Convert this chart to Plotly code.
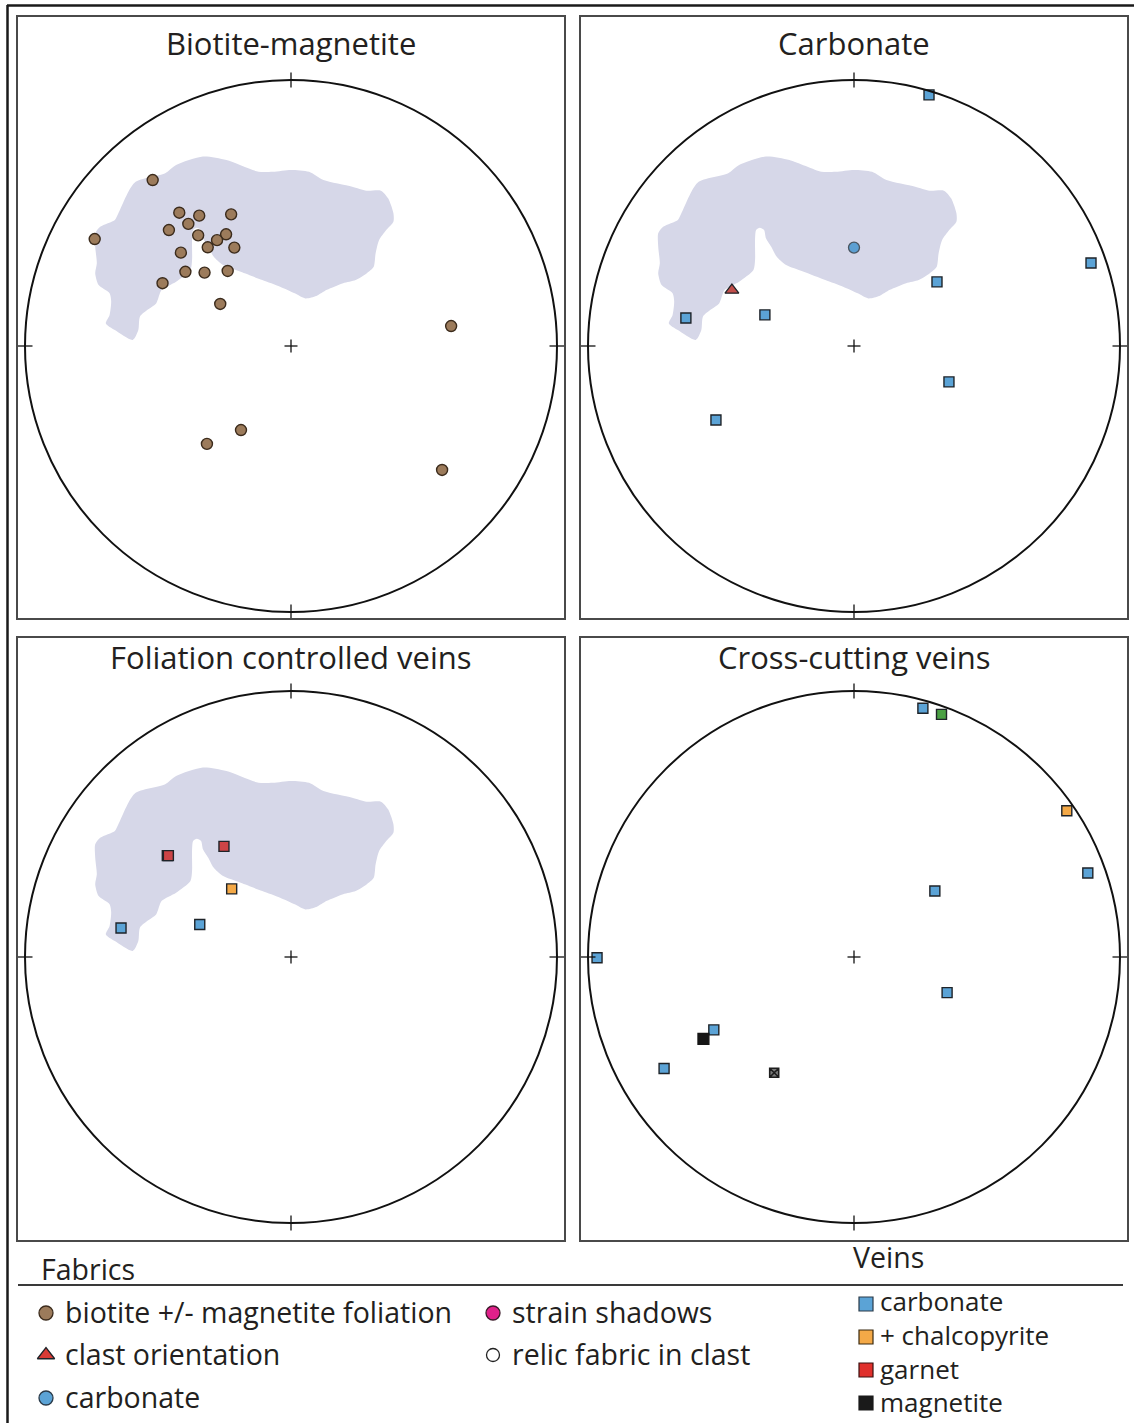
import plotly.graph_objects as go

# ---------------------------------------------------------------------------
# Data: poles plotted on a lower-hemisphere net, in unit-net coordinates
# (x to the east, y to the north, primitive circle radius = 1)
# ---------------------------------------------------------------------------

# Shaded fabric field (shown in three nets)
field_x = [-0.588, -0.473, -0.432, -0.331, -0.243, -0.122, -0.068, 0.000, 0.068, 0.122,
           0.230, 0.284, 0.338, 0.365, 0.385, 0.385, 0.358, 0.331, 0.318, 0.311,
           0.284, 0.243, 0.196, 0.135, 0.095, 0.054, 0.014, -0.041, -0.108, -0.189,
           -0.257, -0.291, -0.311, -0.331, -0.338, -0.354, -0.368, -0.372, -0.372, -0.378,
           -0.432, -0.486, -0.507, -0.541, -0.568, -0.574, -0.595, -0.662, -0.696, -0.682,
           -0.676, -0.682, -0.723, -0.736, -0.730, -0.736, -0.736, -0.716, -0.662, -0.649]
field_y = [0.614, 0.649, 0.680, 0.712, 0.699, 0.655, 0.655, 0.662, 0.655, 0.624,
           0.599, 0.584, 0.584, 0.555, 0.499, 0.467, 0.436, 0.398, 0.348, 0.298,
           0.273, 0.248, 0.236, 0.211, 0.188, 0.179, 0.198, 0.223, 0.248, 0.279,
           0.305, 0.336, 0.373, 0.405, 0.436, 0.445, 0.436, 0.398, 0.323, 0.286,
           0.242, 0.211, 0.160, 0.135, 0.110, 0.060, 0.023, 0.060, 0.085, 0.117,
           0.167, 0.198, 0.229, 0.273, 0.311, 0.373, 0.424, 0.449, 0.474, 0.499]

# Biotite +/- magnetite foliation poles
biotite_x = [-0.520, -0.738, -0.420, -0.345, -0.225, -0.459, -0.386, -0.349, -0.244, -0.278,
             -0.313, -0.213, -0.414, -0.397, -0.325, -0.238, -0.483, -0.266, 0.602, -0.188,
             -0.316, 0.568]
biotite_y = [0.624, 0.402, 0.501, 0.490, 0.495, 0.436, 0.459, 0.416, 0.420, 0.398,
             0.371, 0.370, 0.351, 0.279, 0.276, 0.282, 0.236, 0.158, 0.075, -0.316,
             -0.368, -0.466]

# Carbonate net
carb_vein_x = [0.282, 0.891, 0.312, -0.632, -0.335, 0.357, -0.519]
carb_vein_y = [0.944, 0.312, 0.241, 0.105, 0.117, -0.135, -0.278]
carb_fabric_x = [0.000]
carb_fabric_y = [0.370]
clast_x = [-0.459]
clast_y = [0.210]

# Foliation controlled veins
fol_carb_x = [-0.343, -0.639]
fol_carb_y = [0.122, 0.109]
fol_cpy_x = [-0.223]
fol_cpy_y = [0.256]
fol_grt_x = [-0.465, -0.461, -0.252]
fol_grt_y = [0.381, 0.381, 0.416]

# Cross-cutting veins
cc_carb_x = [0.259, 0.879, 0.304, -0.966, 0.350, -0.527, -0.714]
cc_carb_y = [0.935, 0.316, 0.248, -0.003, -0.134, -0.274, -0.419]
cc_cpy_x = [0.800]
cc_cpy_y = [0.550]
cc_green_x = [0.329]
cc_green_y = [0.912]
cc_mag_x = [-0.566]
cc_mag_y = [-0.308]
cc_mixed_x = [-0.300]
cc_mixed_y = [-0.435]

# Legend entries
fabric_labels = ["biotite +/- magnetite foliation", "clast orientation", "carbonate",
                 "strain shadows", "relic fabric in clast"]
vein_labels = ["carbonate", "+ chalcopyrite", "garnet", "magnetite"]

# ---------------------------------------------------------------------------
# Styling and layout
# ---------------------------------------------------------------------------
W, H = 1134, 1423
R = 266  # net radius in page pixels
FONT = "Open Sans"
TXT = "#231f20"

C_BIO = "#9c7b5b"
C_BLUE = "#5ba3d6"
C_ORANGE = "#f4a947"
C_RED = "#cc4446"
C_GREEN = "#4aa043"
C_FIELD = "#d6d7e8"
EDGE = "#1e2328"

PANELS = [
    dict(title="Biotite-magnetite", box=(18, 17, 564, 618), c=(291, 346), ty=43, field=True),
    dict(title="Carbonate", box=(581, 17, 1127, 618), c=(854, 346), ty=43, field=True),
    dict(title="Foliation controlled veins", box=(18, 638, 564, 1240), c=(291, 957), ty=657, field=True),
    dict(title="Cross-cutting veins", box=(581, 638, 1127, 1240), c=(854, 957), ty=657, field=False),
]


def fx(px):
    return px / W


def fy(py):
    return 1 - py / H


fig = go.Figure()
layout = dict(
    width=W, height=H, margin=dict(l=0, r=0, t=0, b=0),
    paper_bgcolor="white", plot_bgcolor="rgba(0,0,0,0)",
    showlegend=False, shapes=[], annotations=[],
)


def axis_names(i):
    s = "" if i == 1 else str(i)
    return "x" + s, "y" + s, "xaxis" + s, "yaxis" + s


for i, p in enumerate(PANELS, start=1):
    xa, ya, xkey, ykey = axis_names(i)
    x0, y0, x1, y1 = p["box"]
    cx, cy = p["c"]
    common = dict(showgrid=False, zeroline=False, showticklabels=False, ticks="",
                  showline=True, mirror=True, linecolor="#4a4a4a", linewidth=2,
                  fixedrange=True)
    layout[xkey] = dict(domain=[fx(x0), fx(x1)], range=[(x0 - cx) / R, (x1 - cx) / R],
                        anchor=ya, **common)
    layout[ykey] = dict(domain=[fy(y1), fy(y0)], range=[(cy - y1) / R, (cy - y0) / R],
                        anchor=xa, **common)
    # primitive circle
    layout["shapes"].append(dict(type="circle", xref=xa, yref=ya, x0=-1, y0=-1, x1=1, y1=1,
                                 line=dict(color="#111111", width=2), layer="above"))
    # cardinal ticks and centre cross
    t = 7.5 / R
    c = 6.5 / R
    for (ax0, ay0, ax1, ay1) in [(0, 1 - t, 0, 1 + t), (0, -1 - t, 0, -1 + t),
                                 (1 - t, 0, 1 + t, 0), (-1 - t, 0, -1 + t, 0),
                                 (-c, 0, c, 0), (0, -c, 0, c)]:
        layout["shapes"].append(dict(type="line", xref=xa, yref=ya, x0=ax0, y0=ay0,
                                     x1=ax1, y1=ay1, line=dict(color="#111111", width=1.3)))
    layout["annotations"].append(dict(text=p["title"], xref="paper", yref="paper",
                                      x=fx(cx), y=fy(p["ty"]), xanchor="center", yanchor="middle",
                                      showarrow=False, font=dict(family=FONT, size=31, color=TXT)))
    if p["field"]:
        fig.add_trace(go.Scatter(x=field_x + field_x[:1], y=field_y + field_y[:1],
                                 mode="lines", fill="toself", fillcolor=C_FIELD,
                                 line=dict(width=0, shape="spline", smoothing=0.7),
                                 xaxis=xa, yaxis=ya, hoverinfo="skip"))


def pts(i, x, y, symbol, size, color, line_color=EDGE, line_w=1.4):
    xa, ya, _, _ = axis_names(i)
    fig.add_trace(go.Scatter(x=x, y=y, mode="markers", xaxis=xa, yaxis=ya, hoverinfo="skip",
                             marker=dict(symbol=symbol, size=size, color=color,
                                         line=dict(color=line_color, width=line_w))))


# Biotite-magnetite
pts(1, biotite_x, biotite_y, "circle", 11, C_BIO, "#3b2b1c", 1.4)
# Carbonate
pts(2, carb_fabric_x, carb_fabric_y, "circle", 11, "#5c9fd2", "#4a5560", 1.3)
pts(2, clast_x, clast_y, "triangle-up", 12, "#c24f4b", EDGE, 1.3)
pts(2, carb_vein_x, carb_vein_y, "square", 10, C_BLUE)
# Foliation controlled veins
pts(3, fol_carb_x, fol_carb_y, "square", 10, C_BLUE)
pts(3, fol_cpy_x, fol_cpy_y, "square", 10, C_ORANGE)
pts(3, fol_grt_x, fol_grt_y, "square", 10, C_RED)
# Cross-cutting veins
pts(4, cc_carb_x, cc_carb_y, "square", 10, C_BLUE)
pts(4, cc_cpy_x, cc_cpy_y, "square", 10, C_ORANGE)
pts(4, cc_green_x, cc_green_y, "square", 10, C_GREEN)
pts(4, cc_mag_x, cc_mag_y, "square", 11, "#161616", "#161616", 1.2)
pts(4, cc_mixed_x, cc_mixed_y, "square-x", 9, "#7a7a7a", "#1e1e1e", 1.6)

# ---------------------------------------------------------------------------
# Legend (overlay axis in page pixels)
# ---------------------------------------------------------------------------
layout["xaxis5"] = dict(domain=[0, 1], range=[0, W], visible=False, fixedrange=True, anchor="y5")
layout["yaxis5"] = dict(domain=[0, 1], range=[H, 0], visible=False, fixedrange=True, anchor="x5")

fab_style = [("circle", C_BIO, "#3b2b1c", 14), ("triangle-up", "#d93a35", EDGE, 15),
             ("circle", "#5ba3d6", "#2a3a48", 14), ("circle", "#e0218a", "#3a1a28", 14),
             ("circle", "white", "#222222", 13)]
fab_pos = [(46, 1313), (46, 1355), (46, 1398), (493, 1313), (493, 1355)]
vein_style = [("square", C_BLUE, "#2a3a48"), ("square", C_ORANGE, "#3a2a10"),
              ("square", "#e0302c", "#3a1010"), ("square", "#1a1a1a", "#1a1a1a")]
vein_pos = [(866, 1304), (866, 1337), (866, 1370), (866, 1403)]

for lab, (sym, col, lc, sz), (mx, my) in zip(fabric_labels, fab_style, fab_pos):
    fig.add_trace(go.Scatter(x=[mx], y=[my], mode="markers", xaxis="x5", yaxis="y5",
                             hoverinfo="skip",
                             marker=dict(symbol=sym, size=sz, color=col, line=dict(color=lc, width=1.3))))
    layout["annotations"].append(dict(text=lab, xref="paper", yref="paper", x=fx(mx + 17), y=fy(my - 1),
                                      xanchor="left", yanchor="middle", showarrow=False,
                                      font=dict(family=FONT, size=28.5, color=TXT)))

for (sym, col, lc), (mx, my) in zip(vein_style, vein_pos):
    fig.add_trace(go.Scatter(x=[mx], y=[my], mode="markers", xaxis="x5", yaxis="y5",
                             hoverinfo="skip",
                             marker=dict(symbol=sym, size=14, color=col, line=dict(color=lc, width=1.2))))

# vein labels set as one stacked block so the rows keep the tight spacing
vx = vein_pos[0][0] + 12
vy = (vein_pos[0][1] + vein_pos[-1][1]) / 2 - 2
layout["annotations"].append(dict(text="<br>".join(vein_labels), xref="paper", yref="paper",
                                  x=fx(vx), y=fy(vy), xanchor="left", yanchor="middle",
                                  align="left", showarrow=False,
                                  font=dict(family=FONT, size=26, color=TXT)))

for txt, x, y in [("Fabrics", 39, 1269), ("Veins", 851, 1257)]:
    layout["annotations"].append(dict(text=txt, xref="paper", yref="paper", x=fx(x), y=fy(y),
                                      xanchor="left", yanchor="middle", showarrow=False,
                                      font=dict(family=FONT, size=28.5, color=TXT)))

# Page frame and legend rule
for (ax0, ay0, ax1, ay1, col, w) in [(7, 5.5, W, 5.5, "#1a1a1a", 2.5),
                                     (7.5, 5, 7.5, H, "#1a1a1a", 2.5),
                                     (18, 1285, 1123, 1285, "#3a3a3a", 2)]:
    layout["shapes"].append(dict(type="line", xref="paper", yref="paper",
                                 x0=fx(ax0), y0=fy(ay0), x1=fx(ax1), y1=fy(ay1),
                                 line=dict(color=col, width=w)))

fig.update_layout(**layout)
fig.write_html("out.html")
